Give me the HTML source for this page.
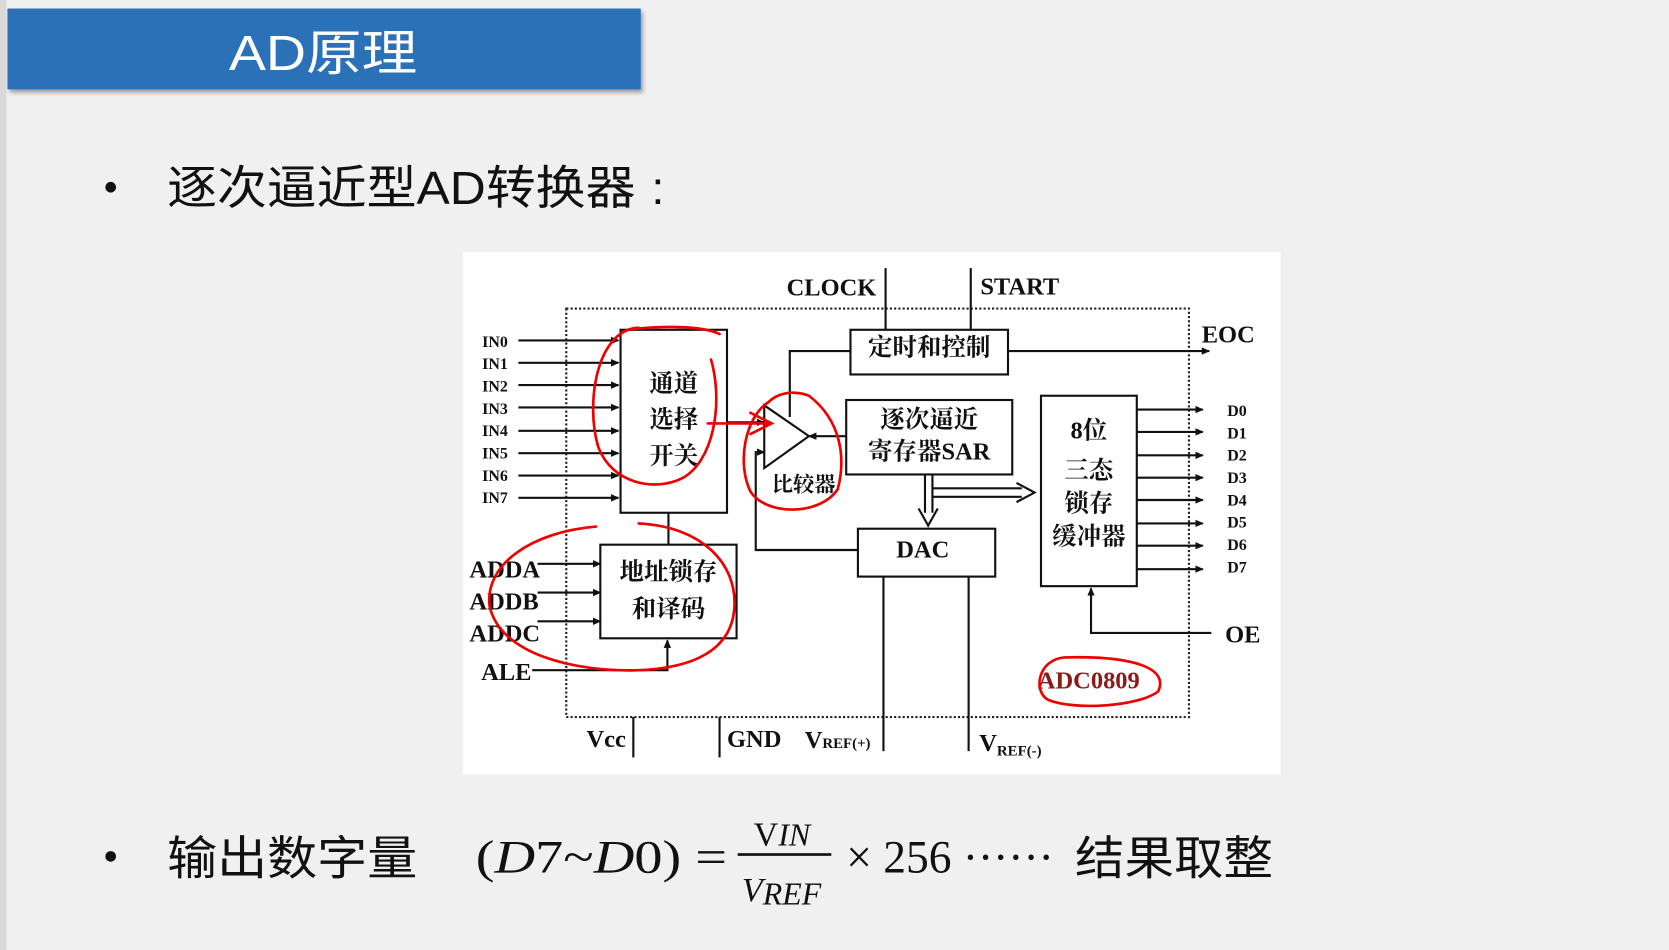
<!DOCTYPE html>
<html><head><meta charset="utf-8">
<style>
html,body{margin:0;padding:0;background:#f0f0f0;}
svg{display:block;}
.s{font-family:"Liberation Serif","Noto Serif CJK SC",serif;font-weight:bold;fill:#111;}
.c{font-family:"Liberation Sans","Noto Sans CJK SC",sans-serif;fill:#111;}
</style></head><body>
<svg width="1669" height="950" viewBox="0 0 1568 893" preserveAspectRatio="none" xmlns="http://www.w3.org/2000/svg">
<defs>
<marker id="a" markerWidth="8" markerHeight="8" refX="7" refY="4" orient="auto" markerUnits="userSpaceOnUse"><path d="M0,0.5 L8,4 L0,7.5 z" fill="#111"/></marker>
<filter id="sh" x="-5%" y="-10%" width="110%" height="130%"><feDropShadow dx="2" dy="3" stdDeviation="2" flood-opacity="0.35"/></filter>
</defs>
<rect width="1568" height="893" fill="#f0f0f0"/>
<rect x="0" y="0" width="6" height="893" fill="#d8d8d8"/>
<rect x="7" y="8" width="595" height="76" fill="#2a71b8" filter="url(#sh)"/>
<text x="215" y="66" font-size="46" fill="#fff" font-family="Liberation Sans,'Noto Sans CJK SC',sans-serif" textLength="177" lengthAdjust="spacingAndGlyphs">AD原理</text>
<circle cx="104" cy="176" r="5" fill="#111"/>
<text x="157" y="192" font-size="44" class="c" textLength="440" lengthAdjust="spacingAndGlyphs">逐次逼近型AD转换器</text>
<text x="612" y="192" font-size="44" class="c">:</text>

<rect x="435" y="237" width="768" height="491" fill="#fff"/>
<rect x="532" y="290" width="585" height="384" fill="none" stroke="#222" stroke-width="2" stroke-dasharray="2,2"/>

<g stroke="#111" stroke-width="2" fill="none">
<line x1="832" y1="252" x2="832" y2="310"/><line x1="912" y1="252" x2="912" y2="310"/>
<rect x="799" y="310" width="148" height="42"/>
<line x1="947" y1="330" x2="1136" y2="330" marker-end="url(#a)"/>
<polyline points="799,330 742,330 742,392"/>
<rect x="583" y="310" width="100" height="172"/>
<rect x="795" y="376" width="156" height="70"/>
<rect x="806" y="497" width="129" height="45"/>
<rect x="978" y="372" width="90" height="179"/>
<rect x="564" y="512" width="128" height="88"/>
<polygon points="718,381 718,440 760,410"/>
<line x1="683" y1="397" x2="718" y2="397" marker-end="url(#a)"/>
<line x1="795" y1="410" x2="760" y2="410" marker-end="url(#a)"/>
<polyline points="806,517 710,517 710,425 718,425" marker-end="url(#a)"/>
<line x1="628" y1="482" x2="628" y2="512"/>
<line x1="830" y1="542" x2="830" y2="706"/><line x1="910" y1="542" x2="910" y2="706"/>
<polyline points="1138,595 1025,595 1025,553" marker-end="url(#a)"/>
<line x1="505" y1="530" x2="564" y2="530" marker-end="url(#a)"/>
<line x1="505" y1="557" x2="564" y2="557" marker-end="url(#a)"/>
<line x1="505" y1="584" x2="564" y2="584" marker-end="url(#a)"/>
<polyline points="500,630 627,630 627,602" marker-end="url(#a)"/>
<line x1="595" y1="674" x2="595" y2="712"/><line x1="676" y1="674" x2="676" y2="712"/>
<line x1="869" y1="446" x2="869" y2="482"/><line x1="876" y1="446" x2="876" y2="482"/>
<polyline points="863,478 872,494 881,478"/>
<line x1="877" y1="459" x2="960" y2="459"/><line x1="877" y1="467" x2="960" y2="467"/>
<polyline points="955,454 972,463 955,472"/>
</g>
<g stroke="#111" stroke-width="2">
<line x1="487" y1="320" x2="581" y2="320" marker-end="url(#a)"/>
<line x1="487" y1="341" x2="581" y2="341" marker-end="url(#a)"/>
<line x1="487" y1="362" x2="581" y2="362" marker-end="url(#a)"/>
<line x1="487" y1="383" x2="581" y2="383" marker-end="url(#a)"/>
<line x1="487" y1="405" x2="581" y2="405" marker-end="url(#a)"/>
<line x1="487" y1="426" x2="581" y2="426" marker-end="url(#a)"/>
<line x1="487" y1="447" x2="581" y2="447" marker-end="url(#a)"/>
<line x1="487" y1="468" x2="581" y2="468" marker-end="url(#a)"/>
<line x1="1068" y1="385" x2="1130" y2="385" marker-end="url(#a)"/>
<line x1="1068" y1="406" x2="1130" y2="406" marker-end="url(#a)"/>
<line x1="1068" y1="428" x2="1130" y2="428" marker-end="url(#a)"/>
<line x1="1068" y1="449" x2="1130" y2="449" marker-end="url(#a)"/>
<line x1="1068" y1="470" x2="1130" y2="470" marker-end="url(#a)"/>
<line x1="1068" y1="492" x2="1130" y2="492" marker-end="url(#a)"/>
<line x1="1068" y1="513" x2="1130" y2="513" marker-end="url(#a)"/>
<line x1="1068" y1="535" x2="1130" y2="535" marker-end="url(#a)"/>
</g>
<g class="s" font-size="15">
<text x="453" y="326">IN0</text><text x="453" y="347">IN1</text><text x="453" y="368">IN2</text><text x="453" y="389">IN3</text>
<text x="453" y="410">IN4</text><text x="453" y="431">IN5</text><text x="453" y="452">IN6</text><text x="453" y="473">IN7</text>
<text x="1153" y="391">D0</text><text x="1153" y="412">D1</text><text x="1153" y="433">D2</text><text x="1153" y="454">D3</text>
<text x="1153" y="475">D4</text><text x="1153" y="496">D5</text><text x="1153" y="517">D6</text><text x="1153" y="538">D7</text>
</g>
<g class="s" font-size="23">
<text x="739" y="278">CLOCK</text><text x="921" y="277">START</text><text x="1129" y="322">EOC</text>
<text x="1151" y="604">OE</text>
<text x="441" y="543">ADDA</text><text x="441" y="573">ADDB</text><text x="441" y="603">ADDC</text><text x="452" y="639">ALE</text>
<text x="551" y="702">Vcc</text><text x="683" y="702">GND</text>
<text x="756" y="703">V<tspan font-size="14">REF(+)</tspan></text>
<text x="920" y="706">V<tspan font-size="14" dy="4">REF(-)</tspan></text>
<text x="842" y="524">DAC</text>
<text x="975" y="647" style="fill:#8b1a1a">ADC0809</text>
</g>
<g class="s" font-size="23" text-anchor="middle">
<text x="873" y="334">定时和控制</text>
<text x="873" y="402">逐次逼近</text><text x="873" y="432">寄存器SAR</text>
<text x="633" y="368">通道</text><text x="633" y="402">选择</text><text x="633" y="436">开关</text>
<text x="1023" y="412">8位</text><text x="1023" y="450">三态</text><text x="1023" y="481">锁存</text><text x="1023" y="512">缓冲器</text>
<text x="628" y="545">地址锁存</text><text x="628" y="580">和译码</text>
<text x="755" y="462" font-size="20">比较器</text>
</g>
<g stroke="#e00" stroke-width="2.5" fill="none" stroke-linecap="round">
<path d="M600,308 C560,310 550,380 562,420 C575,455 615,462 640,450 C670,435 680,380 668,338"/>
<path d="M590,310 C620,306 660,306 676,314"/>
<path d="M665,398 L725,398 M705,388 L725,398 L705,408"/>
<path d="M722,378 C700,392 692,435 705,462 C720,485 770,485 787,460 C795,430 790,395 760,372 C745,366 730,370 722,378"/>
<path d="M560,495 C500,500 455,530 460,570 C470,615 540,632 600,630 C650,628 688,612 690,570 C692,530 660,495 600,492"/>
<path d="M1000,618 C975,620 970,650 985,658 C1010,668 1070,664 1088,650 C1098,630 1070,616 1000,618 Z"/>
</g>

<circle cx="104" cy="805" r="5" fill="#111"/>
<text x="157" y="822" font-size="44" class="c" textLength="235" lengthAdjust="spacingAndGlyphs">输出数字量</text>
<g font-family="'Liberation Serif',serif" font-size="44" fill="#111">
<text x="447" y="820" textLength="236" lengthAdjust="spacingAndGlyphs">(<tspan font-style="italic">D</tspan>7~<tspan font-style="italic">D</tspan>0) =</text>
<text x="708" y="795" font-size="32">V<tspan font-style="italic" font-size="30">IN</tspan></text>
<rect x="693" y="802" width="88" height="2.5" fill="#111"/>
<text x="697" y="847" font-size="32" font-style="italic">V<tspan font-size="30" dy="3">REF</tspan></text>
<text x="795" y="820" textLength="195" lengthAdjust="spacingAndGlyphs">× 256 ······</text>
</g>
<text x="1010" y="822" font-size="44" class="c" textLength="186" lengthAdjust="spacingAndGlyphs">结果取整</text>
</svg>
</body></html>
